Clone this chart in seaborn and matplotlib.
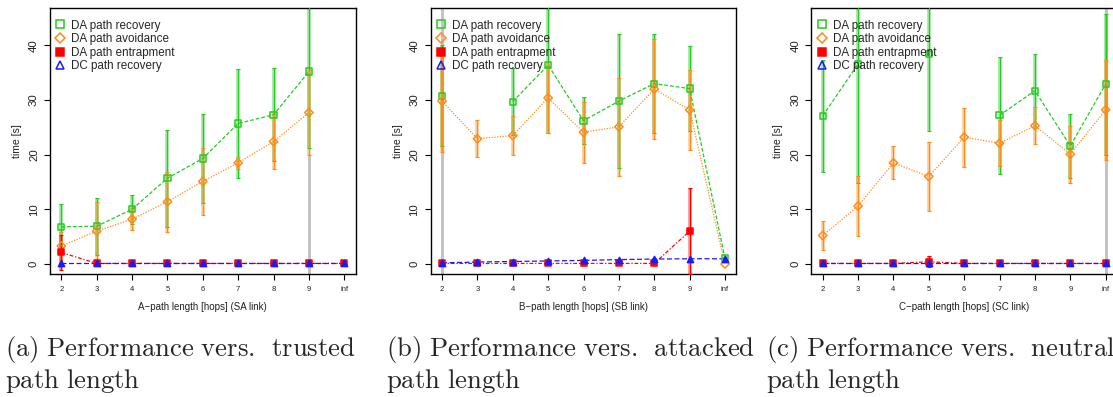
import numpy as np
import matplotlib
matplotlib.use("Agg")
import matplotlib.pyplot as plt
from matplotlib.lines import Line2D
import seaborn as sns

nan = np.nan

# hop counts on the x axis
hops = ["2", "3", "4", "5", "6", "7", "8", "9", "inf"]

# (a) trusted path length
rec_A = [6.8, 6.9, 10.0, 15.7, 19.3, 25.7, 27.3, 35.2, nan]
rec_A_err = [4.1, 5.2, 2.7, 8.9, 8.1, 10.0, 8.5, 14.0, nan]
avo_A = [3.3, 6.0, 8.2, 11.4, 15.1, 18.5, 22.4, 27.7, nan]
avo_A_err = [2.6, 5.4, 2.0, 5.5, 6.1, 1.1, 5.0, 7.8, nan]
ent_A = [2.1, 0.1, 0.1, 0.1, 0.1, 0.1, 0.1, 0.1, 0.1]
ent_A_err = [3.2, 0, 0, 0, 0, 0, 0, 0, 0]
dc_A = [0.2, 0.2, 0.2, 0.2, 0.2, 0.2, 0.2, 0.2, 0.2]
spread_A = [("9", -2.0, 20.0)]

# (b) attacked path length
rec_B = [30.8, nan, 29.7, 36.4, 26.2, 29.8, 33.0, 32.1, 1.0]
rec_B_err = [9.2, nan, 6.1, 12.5, 4.3, 12.3, 9.1, 7.8, 0.3]
avo_B = [29.8, 22.9, 23.5, 30.4, 24.1, 25.1, 32.0, 28.2, 0.0]
avo_B_err = [9.3, 3.4, 3.6, 6.5, 5.6, 9.0, 9.1, 7.3, 0.0]
ent_B = [0.1, 0.1, 0.1, 0.1, 0.1, 0.1, 0.1, 6.0, nan]
ent_B_err = [0, 0, 0, 0, 0, 0, 0, 7.9, nan]
dc_B = [0.2, 0.35, 0.45, 0.55, 0.65, 0.8, 0.9, 0.95, 0.95]
spread_B = [("2", -2.0, 50.0)]

# (c) neutral path length
rec_C = [27.1, 36.6, nan, 38.4, nan, 27.2, 31.7, 21.6, 32.9]
rec_C_err = [10.2, 21.7, nan, 14.1, nan, 10.7, 6.8, 5.8, 12.9]
avo_C = [5.2, 10.6, 18.5, 16.0, 23.2, 22.1, 25.3, 20.1, 28.2]
avo_C_err = [2.6, 5.5, 3.0, 6.3, 5.4, 4.2, 3.4, 5.2, 9.1]
ent_C = [0.1, 0.1, 0.1, 0.4, 0.1, 0.1, 0.1, 0.1, 0.1]
ent_C_err = [0, 0, 0, 1.0, 0, 0, 0, 0, 0]
dc_C = [0.2, 0.2, 0.2, 0.2, 0.2, 0.2, 0.2, 0.2, 0.2]
spread_C = [("inf", -2.0, 50.0)]

series_names = ["DA path recovery", "DA path avoidance", "DA path entrapment", "DC path recovery"]
xlabels = ["A\u2212path length [hops] (SA link)",
           "B\u2212path length [hops] (SB link)",
           "C\u2212path length [hops] (SC link)"]
captions = [(r"$\mathrm{(a)\ Performance\ vers.\ \,trusted}$", r"$\mathrm{path\ length}$"),
            (r"$\mathrm{(b)\ Performance\ vers.\ \,attacked}$", r"$\mathrm{path\ length}$"),
            (r"$\mathrm{(c)\ Performance\ vers.\ \,neutral}$", r"$\mathrm{path\ length}$")]

panels = [
    dict(vals=[(rec_A, rec_A_err), (avo_A, avo_A_err), (ent_A, ent_A_err), (dc_A, None)], spread=spread_A),
    dict(vals=[(rec_B, rec_B_err), (avo_B, avo_B_err), (ent_B, ent_B_err), (dc_B, None)], spread=spread_B),
    dict(vals=[(rec_C, rec_C_err), (avo_C, avo_C_err), (ent_C, ent_C_err), (dc_C, None)], spread=spread_C),
]

styles = [
    dict(color="#22cc22", marker="s", ls=(0, (3, 1.6)), fill=False, plotfill=False, ms=20),
    dict(color="#ff8c1a", marker="D", ls=(0, (1, 1.2)), fill=False, plotfill=False, ms=18),
    dict(color="#ff0000", marker="s", ls=(0, (3, 1.5, 1, 1.5)), fill=True, plotfill=True, ms=20),
    dict(color="#1a1aff", marker="^", ls=(0, (4, 2)), fill=False, plotfill=True, ms=20),
]

sns.set_theme(style="white")
plt.rcParams["font.family"] = ["Liberation Sans", "DejaVu Sans"]
plt.rcParams["mathtext.fontset"] = "cm"

W, H = 1113, 397
fig = plt.figure(figsize=(W / 100, H / 100), dpi=100)

ax_left = [50.0, 430.7, 811.4]
ax_w = 305.6
ax_top, ax_bot = 8.2, 273.8
x = np.arange(len(hops))

for k, (panel, left) in enumerate(zip(panels, ax_left)):
    ax = fig.add_axes([left / W, 1 - ax_bot / H, ax_w / W, (ax_bot - ax_top) / H])
    ax.set_facecolor("white")

    # grey spread bars
    for cat, lo, hi in panel["spread"]:
        xi = hops.index(cat)
        ax.vlines(xi, lo, hi, color="#c4c4c4", lw=2.2, zorder=1)

    for (vals, err), st in zip(panel["vals"], styles):
        y = np.array(vals, dtype=float)
        if err is not None:
            e = np.array(err, dtype=float)
            ok = ~np.isnan(y) & ~np.isnan(e) & (e > 0)
            ax.vlines(x[ok], (y - e)[ok], (y + e)[ok], color=st["color"], lw=2.6, alpha=0.45, zorder=2)
            ax.errorbar(x[ok], y[ok], yerr=e[ok], fmt="none", ecolor=st["color"],
                        elinewidth=0.8, capsize=1.3, capthick=0.8, zorder=3)
        ax.plot(x, y, color=st["color"], ls=st["ls"], lw=0.9, zorder=4)
        ok = ~np.isnan(y)
        sns.scatterplot(x=x[ok], y=y[ok], marker=st["marker"], s=st["ms"],
                        facecolor=st["color"] if st["plotfill"] else "none",
                        edgecolor=st["color"], linewidth=1.1, ax=ax, zorder=5, legend=False)

    ax.set_xlim(-0.32, len(hops) - 1 + 0.32)
    ax.set_ylim(-1.8, 46.8)
    ax.set_xticks(x)
    ax.set_xticklabels(hops, fontsize=5.5)
    ax.set_yticks([0, 10, 20, 30, 40])
    ax.set_yticklabels(["0", "10", "20", "30", "40"], fontsize=8.2, rotation=90, va="center")
    ax.tick_params(axis="both", which="both", direction="out", length=4.5, width=0.8,
                   color="black", left=True, bottom=True, labelcolor="#222222")
    ax.tick_params(axis="x", pad=4.0)
    ax.tick_params(axis="y", pad=3.5)
    for sp in ax.spines.values():
        sp.set_color("black")
        sp.set_linewidth(1.0)
    ax.set_xlabel(xlabels[k], fontsize=7, labelpad=7, color="#222222")
    ax.set_ylabel("time [s]", fontsize=7.5, labelpad=5, color="#222222")

    handles = []
    for st in styles:
        handles.append(Line2D([], [], ls="none", marker=st["marker"], markersize=5.2 if st["marker"] != "D" else 4.6,
                              markerfacecolor=st["color"] if st["fill"] else "none",
                              markeredgecolor=st["color"], markeredgewidth=1.1))
    ax.legend(handles, series_names, loc="upper left", bbox_to_anchor=(-0.012, 0.988), frameon=False,
              fontsize=8.4, handlelength=1.0, handletextpad=0.45, labelspacing=0.14,
              borderaxespad=0.3, borderpad=0.4)

    fig.text((5 + 380.5 * k) / W, 1 - 356 / H, captions[k][0], fontsize=19.2, va="baseline", ha="left")
    fig.text((5 + 380.5 * k) / W, 1 - 388 / H, captions[k][1], fontsize=19.2, va="baseline", ha="left")

fig.savefig("out.png", dpi=100, facecolor="white")
